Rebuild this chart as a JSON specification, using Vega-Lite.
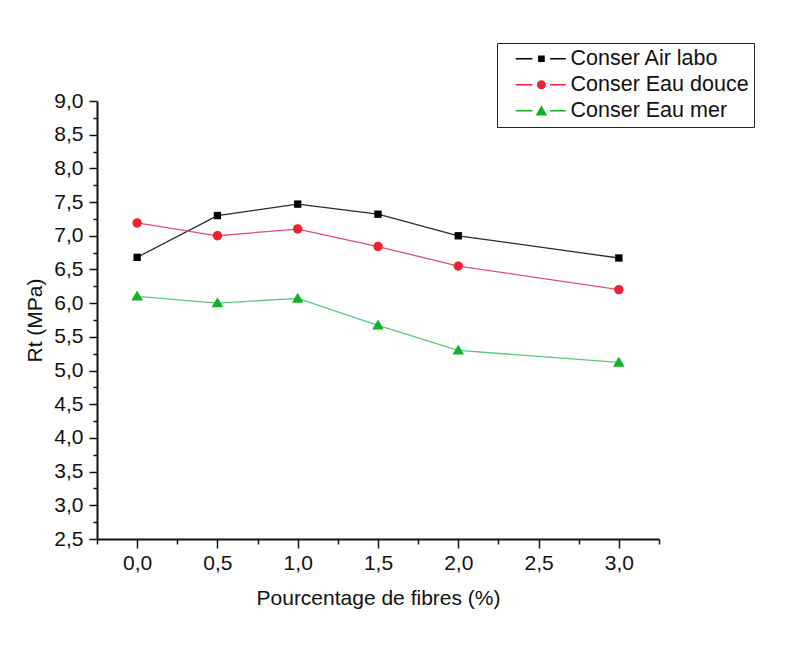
{
  "$schema": "https://vega.github.io/schema/vega-lite/v6.json",
  "autosize": {"type": "none"},
  "width": 562,
  "height": 438,
  "padding": {"left": 97, "top": 101, "right": 136, "bottom": 107},
  "background": "white",
  "config": {
    "view": {"stroke": null},
    "font": "Liberation Sans",
    "axis": {"labelFont": "Liberation Sans", "titleFont": "Liberation Sans", "labelColor": "#111", "titleColor": "#111", "domainColor": "#111", "tickColor": "#111", "grid": false}
  },
  "data": {
    "values": [
      {"pct": 0.0, "rt": 6.68, "serie": "Conser Air labo"},
      {"pct": 0.5, "rt": 7.30, "serie": "Conser Air labo"},
      {"pct": 1.0, "rt": 7.47, "serie": "Conser Air labo"},
      {"pct": 1.5, "rt": 7.32, "serie": "Conser Air labo"},
      {"pct": 2.0, "rt": 7.00, "serie": "Conser Air labo"},
      {"pct": 3.0, "rt": 6.67, "serie": "Conser Air labo"},
      {"pct": 0.0, "rt": 7.19, "serie": "Conser Eau douce"},
      {"pct": 0.5, "rt": 7.00, "serie": "Conser Eau douce"},
      {"pct": 1.0, "rt": 7.10, "serie": "Conser Eau douce"},
      {"pct": 1.5, "rt": 6.84, "serie": "Conser Eau douce"},
      {"pct": 2.0, "rt": 6.55, "serie": "Conser Eau douce"},
      {"pct": 3.0, "rt": 6.20, "serie": "Conser Eau douce"},
      {"pct": 0.0, "rt": 6.10, "serie": "Conser Eau mer"},
      {"pct": 0.5, "rt": 6.00, "serie": "Conser Eau mer"},
      {"pct": 1.0, "rt": 6.07, "serie": "Conser Eau mer"},
      {"pct": 1.5, "rt": 5.67, "serie": "Conser Eau mer"},
      {"pct": 2.0, "rt": 5.30, "serie": "Conser Eau mer"},
      {"pct": 3.0, "rt": 5.12, "serie": "Conser Eau mer"}
    ]
  },
  "layer": [
    {
      "mark": {"type": "line", "strokeWidth": 1.3},
      "encoding": {
        "x": {"field": "pct", "type": "quantitative", "scale": {"domain": [-0.25, 3.25], "nice": false, "zero": false},
          "axis": {"values": [0, 0.5, 1, 1.5, 2, 2.5, 3], "labelExpr": "replace(format(datum.value, '.1f'), '.', ',')", "labelFontSize": 21, "labelPadding": 4, "tickSize": 9, "tickWidth": 1.5, "domainWidth": 2, "title": "Pourcentage de fibres (%)", "titleFontSize": 21, "titleFontWeight": "normal", "titlePadding": 14}},
        "y": {"field": "rt", "type": "quantitative", "scale": {"domain": [2.5, 9.0], "nice": false, "zero": false},
          "axis": {"values": [2.5, 3, 3.5, 4, 4.5, 5, 5.5, 6, 6.5, 7, 7.5, 8, 8.5, 9], "labelExpr": "replace(format(datum.value, '.1f'), '.', ',')", "labelFontSize": 21, "labelPadding": 6, "tickSize": 8, "tickWidth": 1.5, "domainWidth": 2, "title": "Rt (MPa)", "titleFontSize": 21, "titleFontWeight": "normal", "titlePadding": 8}},
        "color": {"field": "serie", "type": "nominal", "scale": {"domain": ["Conser Air labo", "Conser Eau douce", "Conser Eau mer"], "range": ["#2a2a2a", "#e0506a", "#5cc87a"]}, "legend": null}
      }
    },
    {
      "mark": {"type": "point", "filled": true, "opacity": 1, "size": 64, "strokeWidth": 0},
      "encoding": {
        "x": {"field": "pct", "type": "quantitative", "scale": {"domain": [-0.25, 3.25], "nice": false, "zero": false},
          "axis": {"orient": "bottom", "values": [-0.25, 0.25, 0.75, 1.25, 1.75, 2.25, 2.75, 3.25], "labels": false, "domain": false, "tickSize": 5, "tickWidth": 1.5, "title": null}},
        "y": {"field": "rt", "type": "quantitative", "scale": {"domain": [2.5, 9.0], "nice": false, "zero": false},
          "axis": {"orient": "left", "values": [2.75, 3.25, 3.75, 4.25, 4.75, 5.25, 5.75, 6.25, 6.75, 7.25, 7.75, 8.25, 8.75], "labels": false, "domain": false, "tickSize": 4, "tickWidth": 1.5, "title": null}},
        "color": {"field": "serie", "type": "nominal", "scale": {"domain": ["Conser Air labo", "Conser Eau douce", "Conser Eau mer"], "range": ["#000000", "#ee2233", "#14b028"]}, "legend": null},
        "shape": {"field": "serie", "type": "nominal", "scale": {"domain": ["Conser Air labo", "Conser Eau douce", "Conser Eau mer"], "range": [
          "M-0.92,-0.92H0.92V0.92H-0.92Z",
          "M-1.17,0A1.17,1.17 0 1,1 1.17,0A1.17,1.17 0 1,1 -1.17,0Z",
          "M0,-1.45L1.45,1.05H-1.45Z"
        ]}, "legend": null}
      }
    },
    {
      "mark": {"type": "point", "filled": true, "opacity": 0, "size": 100},
      "encoding": {
        "x": {"field": "pct", "type": "quantitative", "scale": {"domain": [-0.25, 3.25], "nice": false, "zero": false}, "axis": null},
        "y": {"field": "rt", "type": "quantitative", "scale": {"domain": [2.5, 9.0], "nice": false, "zero": false}, "axis": null},
        "color": {"field": "serie", "type": "nominal", "scale": {"domain": ["Conser Air labo", "Conser Eau douce", "Conser Eau mer"], "range": ["#000000", "#ee2233", "#14b028"]},
          "legend": {"title": null, "orient": "none", "legendX": 400, "legendY": -58, "padding": 5, "rowPadding": 3, "labelOffset": 47, "labelLimit": 400, "labelFontSize": 21.5, "labelFont": "Liberation Sans", "labelColor": "#111", "strokeColor": "#222", "symbolOpacity": 1, "symbolStrokeWidth": 0, "symbolSize": 100}},
        "shape": {"field": "serie", "type": "nominal", "scale": {"domain": ["Conser Air labo", "Conser Eau douce", "Conser Eau mer"], "range": [
          "M0.6,-0.15H3.93V0.15H0.6Z M5.07,-0.67H6.4V0.67H5.07Z M7.47,-0.15H10.6V0.15H7.47Z",
          "M0.6,-0.15H3.93V0.15H0.6Z M4.83,0A0.9,0.9 0 1,1 6.63,0A0.9,0.9 0 1,1 4.83,0Z M7.47,-0.15H10.6V0.15H7.47Z",
          "M0.6,-0.15H3.93V0.15H0.6Z M5.73,-1.05L6.9,0.95H4.56Z M7.47,-0.15H10.6V0.15H7.47Z"
        ]},
          "legend": {"title": null, "orient": "none", "legendX": 400, "legendY": -58, "padding": 5, "rowPadding": 3, "labelOffset": 47, "labelLimit": 400, "labelFontSize": 21.5, "labelFont": "Liberation Sans", "labelColor": "#111", "strokeColor": "#222", "symbolOpacity": 1, "symbolStrokeWidth": 0, "symbolSize": 100}}
      }
    }
  ],
  "resolve": {"scale": {"color": "independent", "shape": "independent"}, "axis": {"x": "independent", "y": "independent"}}
}
